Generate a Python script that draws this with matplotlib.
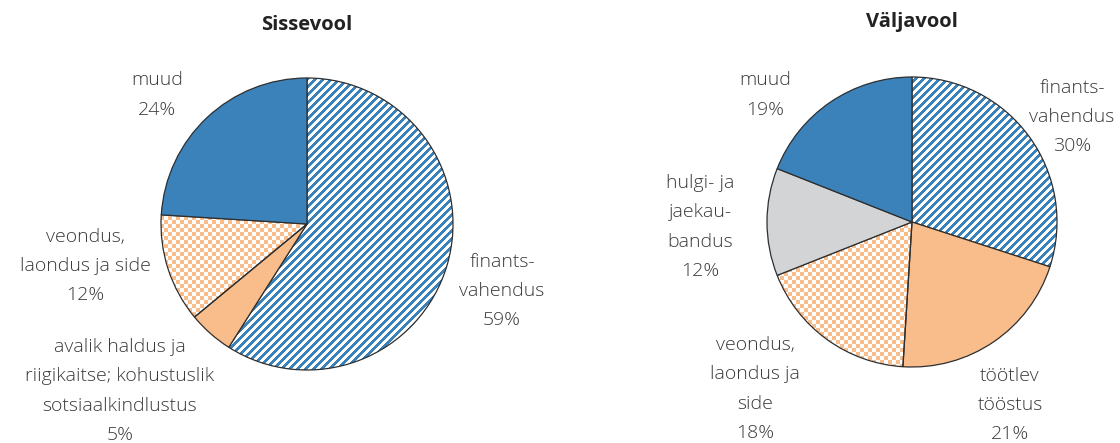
import matplotlib
matplotlib.use("Agg")
import matplotlib.pyplot as plt
import numpy as np

plt.rcParams['font.family'] = ['Open Sans', 'DejaVu Sans']

# data
left_title = "Sissevool"
left_labels = ["finants-\nvahendus\n59%",
               "avalik haldus ja\nriigikaitse; kohustuslik\nsotsiaalkindlustus\n5%",
               "veondus,\nlaondus ja side\n12%",
               "muud\n24%"]
left_values = [59, 5, 12, 24]
left_fill = ["stripes", "orange", "checker", "blue"]

right_title = "Väljavool"
right_labels = ["finants-\nvahendus\n30%",
                "töötlev\ntööstus\n21%",
                "veondus,\nlaondus ja\nside\n18%",
                "hulgi- ja\njaekau-\nbandus\n12%",
                "muud\n19%"]
right_values = [30, 21, 18, 12, 19]
right_fill = ["stripes", "orange", "checker", "gray", "blue"]

W, H = 1120, 443
BLUE = "#3b82ba"
ORANGE = "#f9bd8b"
GRAY = "#d3d4d6"
TXT = "#3a3a3a"
solid = {"orange": ORANGE, "blue": BLUE, "gray": GRAY}

def hex_rgb(h):
    return np.array([int(h[i:i + 2], 16) / 255 for i in (1, 3, 5)])

# pixel textures for the patterned slices
yy, xx = np.mgrid[0:H, 0:W]
stripe_mask = ((xx + yy) % 8) < 4
checker_mask = ((xx // 4 + yy // 4) % 2) == 0
tex = {}
for name, mask, col in [("stripes", stripe_mask, BLUE), ("checker", checker_mask, ORANGE)]:
    img = np.ones((H, W, 3))
    img[mask] = hex_rgb(col)
    tex[name] = img

fig = plt.figure(figsize=(W / 100, H / 100), dpi=100)
ax = fig.add_axes([0, 0, 1, 1])


def draw_pie(values, fills, center, radius):
    faces = [solid.get(f, "none") for f in fills]
    wedges, _ = ax.pie(values, colors=faces, startangle=90, counterclock=False,
                       center=center, radius=radius,
                       wedgeprops=dict(edgecolor="#2e2e2e", linewidth=0.9))
    for w, f in zip(wedges, fills):
        w.set_zorder(2)
        if f in tex:
            im = ax.imshow(tex[f], extent=[0, W, 0, H], origin="upper",
                           interpolation="nearest", zorder=1)
            im.set_clip_path(w)
    return wedges


draw_pie(left_values, left_fill, (307, H - 224), 146)
draw_pie(right_values, right_fill, (912, H - 222), 145)

ax.set_xlim(0, W)
ax.set_ylim(0, H)
ax.set_aspect("auto")
ax.axis("off")

tkw = dict(ha="center", va="center", color=TXT, fontsize=14, fontweight="light",
           linespacing=1.8, multialignment="center")

left_pos = [(502, 291), (120, 391), (85, 266), (157, 95)]
right_pos = [(1072, 117), (1010, 405), (755, 389), (700, 227), (765, 95)]
for lab, (x, y) in zip(left_labels, left_pos):
    ax.text(x, H - y, lab, **tkw)
for lab, (x, y) in zip(right_labels, right_pos):
    ax.text(x, H - y, lab, **tkw)

ax.text(307, H - 25, left_title, ha="center", va="center", fontsize=14.5,
        fontweight="bold", color="#222222")
ax.text(912, H - 22, right_title, ha="center", va="center", fontsize=14.5,
        fontweight="bold", color="#222222")

fig.savefig("out.png", dpi=100)
